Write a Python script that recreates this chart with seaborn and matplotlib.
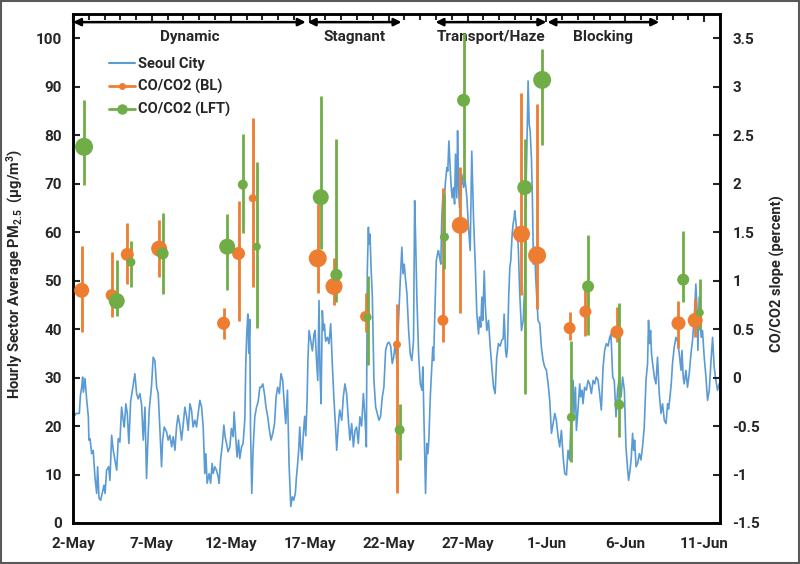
import seaborn as sns
import matplotlib
matplotlib.use('Agg')
from matplotlib import pyplot as plt
import matplotlib.dates as mdates
from matplotlib.lines import Line2D
from matplotlib.patches import Rectangle
from matplotlib.ticker import FixedLocator, FuncFormatter
import pandas as pd
import numpy as np

sns.set_style('white')
plt.rcParams['font.family'] = ['Roboto', 'DejaVu Sans']
plt.rcParams['font.weight'] = 'bold'
plt.rcParams['mathtext.fontset'] = 'custom'
plt.rcParams['mathtext.rm'] = 'Roboto:bold'
plt.rcParams['mathtext.default'] = 'rm'

start = pd.Timestamp('2016-05-02')

# Seoul City hourly PM2.5 (days since 2-May)
seoul_day = [
    0.00, 0.06, 0.19, 0.40, 0.47, 0.55, 0.61, 0.66, 0.76, 0.87,
    0.97, 1.01, 1.08, 1.18, 1.28, 1.39, 1.50, 1.56, 1.65, 1.75,
    1.85, 1.96, 2.03, 2.13, 2.26, 2.34, 2.45, 2.55, 2.66, 2.77,
    2.87, 2.97, 3.08, 3.18, 3.25, 3.35, 3.44, 3.54, 3.65, 3.77,
    3.92, 4.03, 4.13, 4.24, 4.35, 4.45, 4.56, 4.66, 4.73, 4.83,
    4.98, 5.08, 5.19, 5.30, 5.40, 5.51, 5.61, 5.68, 5.78, 5.93,
    6.03, 6.14, 6.25, 6.35, 6.46, 6.56, 6.66, 6.77, 6.88, 6.98,
    7.09, 7.20, 7.30, 7.41, 7.51, 7.61, 7.72, 7.83, 7.93, 8.04,
    8.15, 8.25, 8.35, 8.42, 8.50, 8.63, 8.72, 8.82, 8.88, 8.99,
    9.09, 9.20, 9.26, 9.35, 9.45, 9.56, 9.64, 9.73, 9.83, 9.94,
    10.04, 10.15, 10.21, 10.32, 10.40, 10.49, 10.57, 10.68, 10.78, 10.89,
    10.95, 11.01, 11.08, 11.14, 11.20, 11.25, 11.33, 11.41, 11.52, 11.63,
    11.73, 11.84, 11.92, 12.03, 12.13, 12.23, 12.34, 12.45, 12.55, 12.66,
    12.77, 12.87, 12.97, 13.08, 13.18, 13.29, 13.40, 13.48, 13.59, 13.69,
    13.80, 13.90, 13.99, 14.09, 14.16, 14.22, 14.30, 14.37, 14.43, 14.51,
    14.60, 14.68, 14.75, 14.83, 14.89, 14.96,
    15.06, 15.17, 15.27, 15.34, 15.42, 15.51, 15.59, 15.65, 15.72, 15.80,
    15.87, 15.93, 16.01, 16.12, 16.22, 16.33, 16.44, 16.54, 16.65, 16.71,
    16.82, 16.90, 17.03, 17.13, 17.23, 17.34, 17.45, 17.55, 17.66, 17.77,
    17.87, 17.97, 18.08, 18.18, 18.29, 18.40, 18.50, 18.59, 18.65, 18.72,
    18.75, 18.82, 18.88, 18.97, 19.07, 19.18, 19.28, 19.39, 19.49, 19.60,
    19.70, 19.81, 19.92, 20.02, 20.13, 20.23, 20.32, 20.42, 20.53, 20.63,
    20.74, 20.84, 20.91, 20.99, 21.06, 21.16, 21.27, 21.37, 21.47, 21.58,
    21.65, 21.71, 21.79, 21.90, 22.01, 22.11, 22.17, 22.26, 22.34, 22.42,
    22.49, 22.55, 22.64, 22.74, 22.80, 22.85, 22.96, 23.02, 23.10, 23.16,
    23.23, 23.31, 23.37, 23.44, 23.53, 23.59, 23.69, 23.75, 23.82, 23.91,
    23.97, 24.03, 24.11, 24.18, 24.24, 24.32, 24.37, 24.43, 24.49, 24.58,
    24.64, 24.75, 24.85, 24.96, 25.06, 25.17, 25.27, 25.38, 25.49, 25.59,
    25.70, 25.76, 25.84, 25.91, 25.97, 26.06, 26.12, 26.22, 26.33, 26.44,
    26.54, 26.65, 26.75, 26.85, 26.96, 27.07, 27.17, 27.26, 27.32, 27.41,
    27.47, 27.53, 27.61, 27.68, 27.74, 27.83, 27.89, 27.96, 27.99, 28.06,
    28.15, 28.21, 28.31, 28.42, 28.53, 28.63, 28.69, 28.75, 28.84, 28.91,
    28.97, 29.05, 29.11, 29.18, 29.26, 29.32, 29.41, 29.47, 29.58, 29.68,
    29.79, 29.89, 30.00, 30.11, 30.21, 30.32, 30.42, 30.53, 30.63, 30.74,
    30.84, 30.95, 31.06, 31.16, 31.27, 31.37, 31.47, 31.58, 31.69, 31.75,
    31.84, 31.90, 32.01, 32.11, 32.17, 32.26, 32.32, 32.42, 32.53, 32.64,
    32.74, 32.85, 32.96, 33.06, 33.16, 33.27, 33.37, 33.48, 33.59, 33.69,
    33.80, 33.91, 34.01, 34.09, 34.20, 34.30, 34.41, 34.51, 34.62, 34.73,
    34.83, 34.94, 35.04, 35.15, 35.21, 35.30, 35.38, 35.46, 35.53, 35.59,
    35.68, 35.78, 35.89, 35.99, 36.09, 36.20, 36.31, 36.41, 36.47, 36.54,
    36.60, 36.66, 36.73, 36.84, 36.94, 37.04, 37.15, 37.26, 37.36, 37.47,
    37.58, 37.68, 37.74, 37.83, 37.91, 37.99, 38.10, 38.21, 38.31, 38.42,
    38.53, 38.59, 38.67, 38.73, 38.84, 38.94, 39.05, 39.16, 39.26, 39.37,
    39.47, 39.54, 39.60, 39.68, 39.75, 39.81, 39.89, 40.00, 40.11, 40.21,
    40.32, 40.42, 40.53, 40.63, 40.74, 40.84, 40.95,
]
seoul_pm = [
    18.4, 21.9, 22.6, 22.6, 26.3, 28.0, 30.1, 27.0, 29.8, 25.3,
    22.0, 17.1, 17.4, 14.3, 15.0, 9.5, 6.1, 11.6, 5.1, 4.7,
    6.1, 7.8, 6.1, 10.9, 11.6, 8.8, 18.1, 15.0, 13.0, 10.9,
    17.4, 16.7, 23.9, 21.2, 19.8, 24.6, 22.6, 16.4, 25.0, 27.5,
    30.8, 26.7, 25.6, 26.7, 24.3, 17.1, 23.9, 9.2, 15.7, 23.3,
    28.4, 34.2, 33.5, 28.0, 26.7, 19.1, 11.6, 17.1, 19.8, 18.8,
    17.1, 18.1, 15.7, 17.8, 15.0, 19.8, 22.2, 20.2, 17.1, 20.2,
    23.9, 21.9, 19.1, 24.6, 23.3, 19.8, 21.2, 19.8, 22.6, 25.3,
    23.9, 19.8, 10.2, 14.3, 8.2, 10.2, 8.2, 12.3, 10.2, 11.6,
    10.9, 9.5, 8.2, 13.0, 15.7, 20.2, 17.8, 16.4, 14.7, 15.7,
    19.5, 17.8, 22.9, 17.1, 13.6, 17.1, 13.3, 15.7, 16.4, 21.5,
    32.9, 39.0, 43.1, 35.0, 42.0, 19.1, 6.1, 15.0, 21.9, 23.9,
    25.0, 28.0, 28.0, 28.7, 26.7, 23.9, 21.9, 19.1, 17.1, 18.5,
    20.5, 26.0, 28.0, 26.7, 30.8, 29.4, 23.9, 20.5, 27.4, 12.3,
    3.4, 5.4, 4.7, 6.1, 9.5, 11.6, 15.0, 19.8, 15.7, 13.0,
    18.5, 22.0, 18.0, 25.0, 34.0, 39.7,
    37.7, 35.5, 39.0, 39.7, 34.2, 29.4, 45.9, 31.5, 24.6, 43.8,
    39.7, 41.0, 37.5, 38.3, 37.0, 41.1, 32.2, 25.3, 19.1, 15.0,
    20.5, 23.3, 21.2, 26.0, 28.7, 26.7, 21.2, 17.1, 20.5, 15.7,
    19.1, 19.8, 16.4, 21.9, 20.0, 26.7, 21.9, 15.7, 52.0, 61.0,
    57.5, 59.6, 53.4, 46.6, 29.4, 23.9, 22.6, 21.2, 22.0, 26.0,
    28.0, 35.6, 37.0, 37.3, 36.5, 32.9, 34.2, 37.0, 32.9, 41.8,
    50.0, 56.9, 51.4, 53.4, 50.7, 47.3, 39.7, 34.9, 33.5, 37.7,
    66.5, 58.9, 46.6, 34.9, 28.7, 27.4, 32.2, 18.5, 6.1, 16.4,
    14.3, 17.1, 26.0, 32.2, 36.3, 33.5, 46.6, 54.1, 55.5, 56.2,
    54.8, 53.4, 63.0, 67.8, 65.8, 69.9, 73.3, 72.6, 78.8, 72.6,
    69.2, 67.1, 69.2, 65.8, 76.1, 67.1, 80.9, 69.9, 65.1, 68.5,
    71.9, 69.2, 70.6, 67.1, 61.0, 56.2, 76.7, 63.0, 53.4, 43.2,
    39.0, 42.5, 40.4, 46.6, 41.8, 52.0, 45.3, 39.7, 41.8, 36.3,
    32.2, 28.0, 26.7, 34.2, 37.0, 36.5, 37.7, 38.0, 43.1, 35.6,
    34.2, 36.0, 46.6, 52.7, 54.1, 59.6, 61.7, 63.0, 64.4, 62.4,
    58.9, 57.5, 47.3, 39.7, 41.8, 49.3, 65.8, 75.4, 91.2, 82.2,
    80.9, 75.4, 67.1, 53.4, 56.9, 50.7, 45.3, 41.8, 41.1, 36.3,
    33.5, 32.2, 31.5, 28.7, 25.3, 18.5, 20.5, 22.6, 21.2, 17.8,
    15.7, 19.1, 13.6, 10.2, 9.9, 15.0, 13.0, 23.3, 29.4, 22.6,
    28.0, 19.1, 23.9, 28.7, 26.0, 27.4, 24.6, 28.0, 27.4, 29.4,
    28.7, 26.7, 29.4, 28.7, 30.1, 29.5, 26.7, 23.3, 32.2, 35.6,
    37.0, 36.5, 38.3, 39.0, 30.1, 29.4, 21.9, 27.4, 30.1, 26.0,
    30.1, 27.4, 15.7, 10.9, 8.8, 10.9, 13.6, 18.5, 15.0, 17.1,
    11.6, 12.3, 14.3, 13.0, 15.7, 19.8, 29.4, 32.9, 41.8, 37.0,
    39.7, 34.9, 32.9, 30.1, 28.7, 34.2, 26.7, 22.6, 24.6, 21.2,
    20.5, 24.6, 23.5, 26.0, 28.7, 32.9, 36.3, 38.3, 37.5, 34.9,
    31.5, 35.6, 30.1, 28.7, 31.5, 28.0, 30.8, 34.9, 37.7, 42.5,
    49.3, 44.5, 35.6, 46.6, 41.1, 38.3, 39.7, 34.2, 30.1, 25.3,
    27.4, 32.9, 38.3, 32.2, 29.4, 27.4, 28.7,
]

# CO/CO2 slope, boundary layer (BL)
bl_day = [0.55, 2.45, 3.44, 5.46, 9.54, 10.49, 11.39, 15.51, 16.54, 18.54,
          20.53, 23.44, 24.54, 28.42, 29.41, 31.47, 32.47, 34.47, 38.37, 39.43]
bl_slope = [0.90, 0.85, 1.27, 1.33, 0.56, 1.28, 1.85, 1.23, 0.94, 0.63,
            0.34, 0.59, 1.57, 1.48, 1.26, 0.51, 0.68, 0.47, 0.56, 0.59]
bl_lo = [0.47, 0.62, 0.97, 1.04, 0.40, 0.58, 0.93, 0.87, 0.75, 0.47,
         -1.19, 0.37, 0.67, 0.85, 0.71, 0.39, 0.43, 0.37, 0.31, 0.42]
bl_hi = [1.36, 1.29, 1.59, 1.63, 0.72, 1.82, 2.68, 1.79, 1.23, 0.87,
         0.76, 1.96, 2.17, 2.94, 2.82, 0.68, 0.90, 0.73, 0.79, 0.81]
bl_n = [15, 12, 13, 16, 13, 13, 8, 18, 17, 11,
        8, 11, 17, 17, 18, 12, 12, 13, 14, 15]

# CO/CO2 slope, lower free troposphere (LFT)
lft_day = [0.70, 2.77, 3.67, 5.68, 9.77, 10.76, 11.65, 15.70, 16.69, 18.67,
           20.70, 23.54, 24.75, 28.63, 29.73, 31.58, 32.64, 34.62, 38.67, 39.72]
lft_slope = [2.38, 0.79, 1.19, 1.28, 1.35, 1.99, 1.35, 1.86, 1.06, 0.62,
             -0.54, 1.45, 2.86, 1.96, 3.07, -0.41, 0.94, -0.28, 1.01, 0.67]
lft_lo = [1.99, 0.63, 0.93, 0.86, 0.90, 1.49, 0.51, 1.33, 0.78, 0.13,
          -0.85, 1.12, 2.03, -0.17, 2.40, -0.87, 0.44, -0.61, 0.78, 0.49]
lft_hi = [2.86, 1.21, 1.41, 1.70, 1.69, 2.51, 2.22, 2.90, 2.46, 1.05,
          -0.27, 1.89, 3.55, 2.46, 3.39, 0.38, 1.47, 0.77, 1.51, 1.02]
lft_n = [18, 16, 9, 12, 16, 10, 8, 16, 12, 8,
         10, 9, 13, 15, 18, 9, 12, 10, 12, 8]

phase_names = ['Dynamic', 'Stagnant', 'Transport/Haze', 'Blocking']
phase_start = [0.0, 14.87, 22.97, 30.06]
phase_end = [14.75, 20.82, 30.0, 37.15]

blue = '#5B9BD5'
orange = '#ED7D31'
green = '#70AD47'

seoul = pd.DataFrame({'time': start + pd.to_timedelta(seoul_day, unit='D'), 'pm': seoul_pm})
bl = pd.DataFrame({'time': start + pd.to_timedelta(bl_day, unit='D'), 'slope': bl_slope,
                   'lo': bl_lo, 'hi': bl_hi, 'n': bl_n})
lft = pd.DataFrame({'time': start + pd.to_timedelta(lft_day, unit='D'), 'slope': lft_slope,
                    'lo': lft_lo, 'hi': lft_hi, 'n': lft_n})

fig = plt.figure(figsize=(8, 5.64), dpi=100)
ax = fig.add_axes([0.09125, 0.0727, 0.80875, 0.9025])
ax2 = ax.twinx()

sns.lineplot(data=seoul, x='time', y='pm', ax=ax, color=blue, linewidth=1.2,
             estimator=None, sort=False)

for df, col in [(bl, orange), (lft, green)]:
    ax2.errorbar(df['time'], df['slope'],
                 yerr=[df['slope'] - df['lo'], df['hi'] - df['slope']],
                 fmt='none', ecolor=col, elinewidth=2.0, capsize=0, zorder=2)
    area = (df['n'] * 0.72) ** 2
    sns.scatterplot(x=df['time'], y=df['slope'], size=area, ax=ax2, color=col,
                    sizes=(area.min(), area.max()), size_norm=(area.min(), area.max()),
                    edgecolor='none', linewidth=0, legend=False, zorder=3)

end = start + pd.Timedelta(days=41)
ax.set_xlim(start, end)
ax.set_ylim(0, 105)
ax2.set_ylim(-1.5, 3.75)

ax.xaxis.set_major_locator(FixedLocator(mdates.date2num(pd.date_range(start, periods=9, freq='5D'))))
ax.xaxis.set_minor_locator(FixedLocator(mdates.date2num(pd.date_range(start, end, freq='D'))))
ax.xaxis.set_major_formatter(mdates.DateFormatter('%-d-%b'))
ax.yaxis.set_major_locator(FixedLocator(np.arange(0, 101, 10)))
ax2.yaxis.set_major_locator(FixedLocator(np.arange(-1.5, 3.51, 0.5)))
ax2.yaxis.set_major_formatter(FuncFormatter(lambda v, p: '%g' % v))

ax.tick_params(axis='x', which='major', direction='in', length=6, width=1.5,
               top=True, pad=10, labelsize=11)
ax.tick_params(axis='x', which='minor', direction='in', length=4, width=1.5, top=True)
ax.tick_params(axis='y', direction='in', length=5, width=1.5, pad=8, labelsize=11, left=True)
ax2.tick_params(axis='y', direction='in', length=5, width=1.5, pad=9, labelsize=11, right=True)

for a in (ax, ax2):
    for s in a.spines.values():
        s.set_color('black')
        s.set_linewidth(1.8)
    a.grid(False)

ax.set_xlabel('')
ax.set_ylabel('Hourly Sector Average PM$_{2.5}$  (µg/m$^3$)', fontsize=10.5, fontweight='bold')
ax2.set_ylabel('CO/CO2 slope (percent)', fontsize=10.5, fontweight='bold')
ax.yaxis.set_label_coords(-0.074, 0.49)
ax2.yaxis.set_label_coords(1.078, 0.49)

# regime arrows along the top
for name, s0, s1 in zip(phase_names, phase_start, phase_end):
    t0 = mdates.date2num(start + pd.Timedelta(days=s0))
    t1 = mdates.date2num(start + pd.Timedelta(days=s1))
    ax.annotate('', xy=(t1, 0.984), xytext=(t0, 0.984),
                xycoords=('data', 'axes fraction'),
                arrowprops=dict(arrowstyle='<|-|>', color='black', lw=1.8,
                                mutation_scale=11, shrinkA=0, shrinkB=0))
    ax.text((t0 + t1) / 2, 0.955, name, transform=ax.get_xaxis_transform(),
            ha='center', va='center', fontsize=11, fontweight='bold')

handles = [
    Line2D([], [], color=blue, lw=1.5),
    Line2D([], [], color=orange, lw=2, marker='o', markersize=4),
    Line2D([], [], color=green, lw=2, marker='o', markersize=6.5),
]
ax2.legend(handles, ['Seoul City', 'CO/CO2 (BL)', 'CO/CO2 (LFT)'],
           loc='upper left', bbox_to_anchor=(0.055, 0.915), frameon=False,
           prop={'size': 10.5, 'weight': 'bold'}, handlelength=1.8,
           handletextpad=0.2, labelspacing=0.55, borderpad=0, borderaxespad=0)

fig.patches.append(Rectangle((0.001, 0.001), 0.998, 0.998, transform=fig.transFigure,
                             fill=False, edgecolor='#595959', linewidth=1.5))

plt.savefig('out.png', dpi=100)
